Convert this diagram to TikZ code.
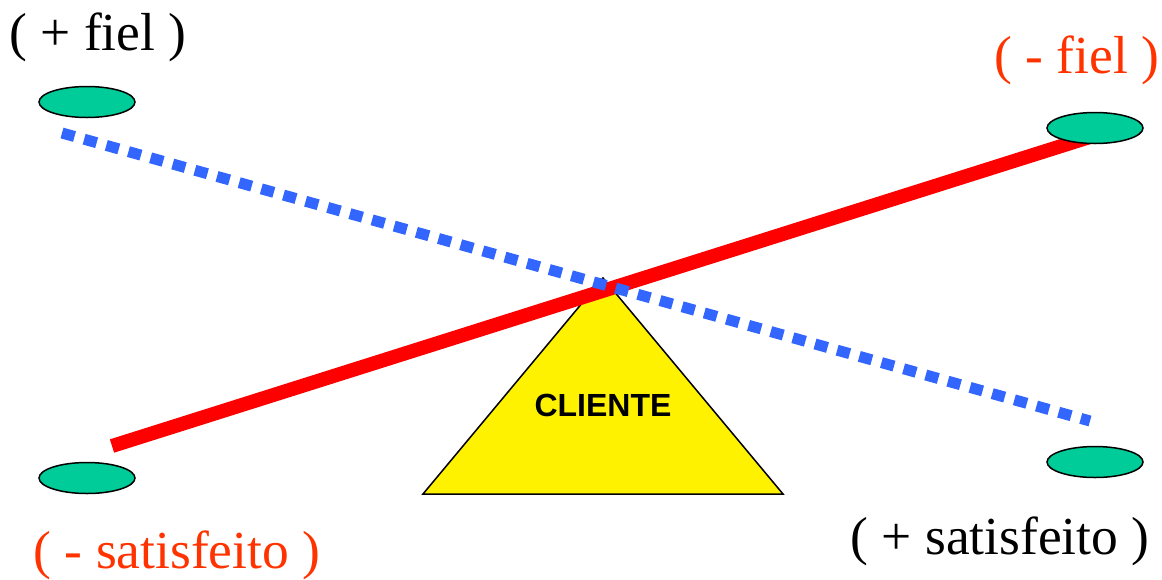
\documentclass[tikz,border=0pt]{standalone}
\usepackage{fontspec}
\setmainfont[Ligatures=NoCommon]{Liberation Serif}
\newfontfamily\arialfont{Liberation Sans}
\usetikzlibrary{shapes.geometric}
\definecolor{beamred}{HTML}{FF0000}
\definecolor{labelred}{HTML}{FF3300}
\definecolor{beamblue}{HTML}{3366FF}
\definecolor{padgreen}{HTML}{00CC99}

\begin{document}
\begin{tikzpicture}[x=1pt,y=-1pt,
    pad/.style={ellipse,draw,line width=1.5pt,fill=padgreen,minimum width=96pt,minimum height=31pt,inner sep=0pt},
    lbl/.style={anchor=base,inner sep=0pt,font=\fontsize{53.5}{60}\selectfont}]
  \useasboundingbox (0,0) rectangle (1162,579);
  % fulcrum
  \coordinate (apex) at (603,278);
  \coordinate (baseL) at (423,494);
  \coordinate (baseR) at (783,494);
  \draw[fill=yellow, line width=1.5pt, line join=miter] (apex) -- (baseR) -- (baseL) -- cycle;
  \node[font=\arialfont\bfseries\fontsize{32}{36}\selectfont] (cliente) at (603,405) {CLIENTE};
  % beams
  \coordinate (redA) at (112,446);
  \coordinate (redB) at (1093,136);
  \coordinate (blueA) at (62,133);
  \coordinate (blueB) at (1090,421);
  \draw[beamred, line width=14pt] (redA) -- (redB);
  \draw[beamblue, line width=11pt, dash pattern=on 13pt off 10pt] (blueA) -- (blueB);
  % pads
  \node[pad] (padTL) at (87,102) {};
  \node[pad] (padTR) at (1095,128) {};
  \node[pad] (padBL) at (87,478) {};
  \node[pad] (padBR) at (1095,462) {};
  % labels
  \node[lbl] (maisfiel) at (98,50) {( + fiel )};
  \node[lbl, labelred] (menosfiel) at (1077,73) {( - fiel )};
  \node[lbl, labelred] (menossat) at (177,568) {( - satisfeito )};
  \node[lbl] (maissat) at (1000,554) {( + satisfeito )};
\end{tikzpicture}
\end{document}
